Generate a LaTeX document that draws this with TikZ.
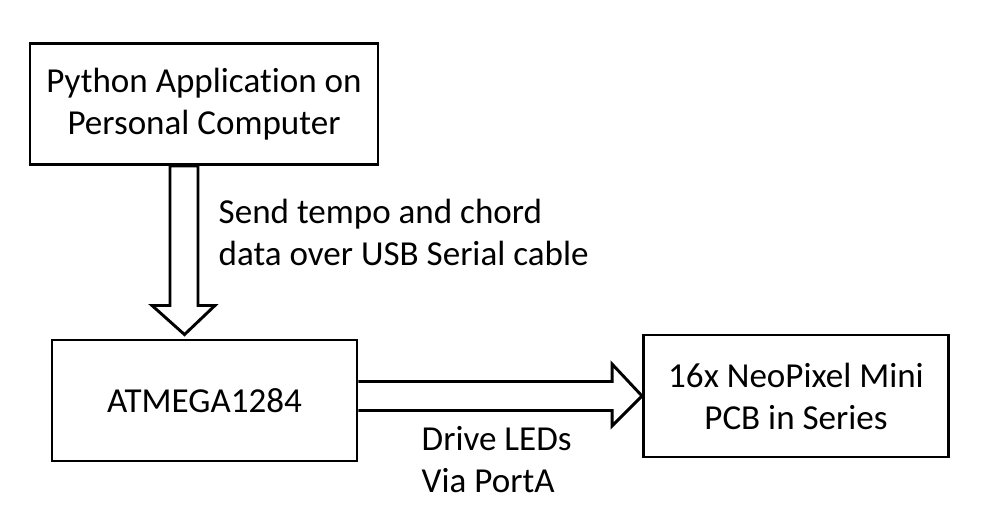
\documentclass[tikz,border=0pt]{standalone}
\usepackage{fontspec}
\setmainfont{Carlito}[Ligatures=NoCommon]
\usetikzlibrary{calc}
\begin{document}
\begin{tikzpicture}[x=0.75pt,y=-0.75pt]
\tikzstyle{every node}=[font=\fontsize{26.3}{31.5}\selectfont]
\tikzstyle{blockbox}=[draw, line width=2.2pt, align=center, inner sep=0pt]
\tikzstyle{fatarrow}=[draw, line width=2.2pt, line join=miter, fill=white]
	\useasboundingbox (0,0) rectangle (995,526);

	\node[blockbox, minimum width=261pt, minimum height=90.75pt] (pc) at (204,104) {Python Application on\\Personal Computer};
	\node[blockbox, minimum width=228.75pt, minimum height=90.75pt] (mcu) at (204.5,400.5) {ATMEGA1284};
	\node[blockbox, minimum width=228.75pt, minimum height=91.5pt] (led) at (796,396) {16x NeoPixel Mini\\PCB in Series};

	% USB link, down from the PC
	\draw[fatarrow] ($(pc.south)+(-34,0)$) to ($(pc.south)+(-6,0)$) to ($(pc.south)+(-6,139.5)$) to ($(pc.south)+(11,139.5)$)
		to ($(mcu.north)+(-20,-4)$) to ($(pc.south)+(-52,139.5)$) to ($(pc.south)+(-34,139.5)$) to cycle;
	\node[anchor=west, align=left] (usb) at (214,232) {Send tempo and chord\\data over USB Serial cable};

	% PortA link, right to the LEDs
	\draw[fatarrow] ($(mcu.east |- led.west)+(0,-14.5)$) to ($(led.west)+(-30,-14.5)$) to ($(led.west)+(-30,-32)$) to (led.west)
		to ($(led.west)+(-30,30)$) to ($(led.west)+(-30,14.5)$) to ($(mcu.east |- led.west)+(0,14.5)$);
	\node[anchor=west, align=left] (porta) at (417,460) {Drive LEDs\\Via PortA};
\end{tikzpicture}
\end{document}
